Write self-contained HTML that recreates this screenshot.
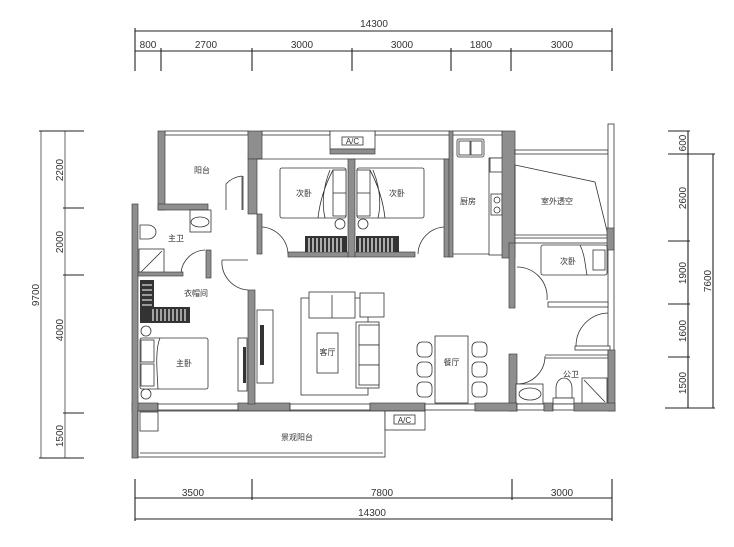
<!DOCTYPE html>
<html><head><meta charset="utf-8"><style>
html,body{margin:0;padding:0;background:#fff;width:734px;height:547px;overflow:hidden}
svg{display:block}
text{font-family:"Liberation Sans","Noto Sans CJK SC",sans-serif;fill:#333}
.d{font-size:10px}
.l{font-size:8px}
.w{fill:#8e8e8e;stroke:#444;stroke-width:.7}
.t{fill:none;stroke:#333;stroke-width:.8}
.f{fill:#fff;stroke:#333;stroke-width:.8}
.k{stroke:#222;stroke-width:1.1}
</style></head><body>
<svg width="734" height="547" viewBox="0 0 734 547">
<!-- top dimensions -->
<g class="k">
<line x1="135" y1="31" x2="612" y2="31"/>
<line x1="135" y1="51" x2="612" y2="51"/>
<line x1="135" y1="28" x2="135" y2="71"/><line x1="612" y1="28" x2="612" y2="71"/>
<line x1="161" y1="48" x2="161" y2="71"/><line x1="252" y1="48" x2="252" y2="71"/>
<line x1="352" y1="48" x2="352" y2="71"/><line x1="451" y1="48" x2="451" y2="71"/>
<line x1="511" y1="48" x2="511" y2="71"/>
</g>
<text class="d" x="374" y="27" text-anchor="middle">14300</text>
<text class="d" x="148" y="48" text-anchor="middle">800</text>
<text class="d" x="206" y="48" text-anchor="middle">2700</text>
<text class="d" x="302" y="48" text-anchor="middle">3000</text>
<text class="d" x="402" y="48" text-anchor="middle">3000</text>
<text class="d" x="481" y="48" text-anchor="middle">1800</text>
<text class="d" x="562" y="48" text-anchor="middle">3000</text>
<!-- bottom dimensions -->
<g class="k">
<line x1="135" y1="498" x2="612" y2="498"/>
<line x1="135" y1="519" x2="612" y2="519"/>
<line x1="135" y1="479" x2="135" y2="521"/><line x1="612" y1="479" x2="612" y2="521"/>
<line x1="252" y1="479" x2="252" y2="500"/><line x1="512" y1="479" x2="512" y2="500"/>
</g>
<text class="d" x="193" y="496" text-anchor="middle">3500</text>
<text class="d" x="382" y="496" text-anchor="middle">7800</text>
<text class="d" x="562" y="496" text-anchor="middle">3000</text>
<text class="d" x="372" y="516" text-anchor="middle">14300</text>
<!-- left dimensions -->
<g stroke="#666" stroke-width="1">
<line x1="41" y1="131" x2="41" y2="458"/>
<line x1="65" y1="131" x2="65" y2="458"/>
</g>
<g class="k">
<line x1="39" y1="131" x2="84" y2="131"/><line x1="39" y1="458" x2="84" y2="458"/>
<line x1="63" y1="208" x2="84" y2="208"/><line x1="63" y1="275" x2="84" y2="275"/>
<line x1="63" y1="413" x2="84" y2="413"/>
</g>
<text class="d" transform="translate(39,295) rotate(-90)" text-anchor="middle">9700</text>
<text class="d" transform="translate(63,170) rotate(-90)" text-anchor="middle">2200</text>
<text class="d" transform="translate(63,242) rotate(-90)" text-anchor="middle">2000</text>
<text class="d" transform="translate(63,330) rotate(-90)" text-anchor="middle">4000</text>
<text class="d" transform="translate(63,436) rotate(-90)" text-anchor="middle">1500</text>
<!-- right dimensions -->
<g class="k">
<line x1="688" y1="131" x2="688" y2="408"/>
<line x1="713" y1="154" x2="713" y2="408"/>
<line x1="668" y1="131" x2="690" y2="131"/><line x1="668" y1="154" x2="715" y2="154"/>
<line x1="668" y1="241" x2="690" y2="241"/><line x1="668" y1="304" x2="690" y2="304"/>
<line x1="668" y1="357" x2="690" y2="357"/><line x1="665" y1="408" x2="715" y2="408"/>
</g>
<text class="d" transform="translate(686,143) rotate(-90)" text-anchor="middle">600</text>
<text class="d" transform="translate(686,198) rotate(-90)" text-anchor="middle">2600</text>
<text class="d" transform="translate(686,273) rotate(-90)" text-anchor="middle">1900</text>
<text class="d" transform="translate(686,331) rotate(-90)" text-anchor="middle">1600</text>
<text class="d" transform="translate(686,383) rotate(-90)" text-anchor="middle">1500</text>
<text class="d" transform="translate(711,281) rotate(-90)" text-anchor="middle">7600</text>

<!-- ===== PLAN ===== -->
<!-- top windows/outer -->
<rect class="f" x="165" y="131" width="83" height="4"/>
<rect class="f" x="262" y="131" width="68" height="4"/>
<rect class="f" x="375" y="131" width="75" height="4"/>
<rect class="f" x="452" y="131" width="50" height="4"/>
<!-- balcony (阳台) -->
<rect class="w" x="158" y="131" width="7" height="79"/>
<rect class="w" x="248" y="131" width="14" height="28"/>
<rect class="w" x="248" y="159" width="9" height="55"/>
<rect class="w" x="158" y="204" width="50" height="6"/>
<path class="t" d="M226,210 V184 A25,25 0 0 1 242,176 M242,176 V210"/>
<line class="t" x1="243" y1="176" x2="243" y2="210"/>
<!-- A/C top -->
<rect class="f" x="330" y="131" width="45" height="18"/>
<rect class="f" x="342" y="137" width="21" height="8"/>
<text class="l" x="352.5" y="144" text-anchor="middle">A/C</text>
<rect class="w" x="330" y="149" width="45" height="5"/>
<!-- bedrooms top -->
<line class="t" x1="257" y1="159" x2="450" y2="159"/>
<rect class="w" x="348" y="159" width="7" height="98"/>
<rect class="w" x="288" y="252" width="60" height="5"/>
<rect class="w" x="355" y="252" width="60" height="5"/>
<rect class="w" x="257" y="214" width="5" height="40"/>
<rect class="w" x="444" y="159" width="5" height="98"/>
<!-- beds upper -->
<rect class="f" x="280" y="168" width="66" height="50" rx="2"/>
<rect class="f" x="333" y="170" width="13" height="46"/>
<line class="t" x1="333" y1="193" x2="346" y2="193"/>
<path class="t" d="M333,170 C325,185 320,200 318,218 M330,170 C322,190 322,205 325,218"/>
<rect class="f" x="357" y="168" width="67" height="50" rx="2"/>
<rect class="f" x="357" y="170" width="13" height="46"/>
<line class="t" x1="357" y1="193" x2="370" y2="193"/>
<path class="t" d="M370,170 C378,185 383,200 385,218 M373,170 C381,190 381,205 378,218"/>
<text class="l" x="304" y="196" text-anchor="middle">次卧</text>
<text class="l" x="397" y="196" text-anchor="middle">次卧</text>
<circle class="f" cx="340" cy="224" r="5"/><circle class="f" cx="363" cy="224" r="5"/>
<g fill="#333"><rect x="305" y="236" width="42" height="16"/><rect x="356" y="236" width="43" height="16"/></g>
<g stroke="#fff" stroke-width="1.2">
<path d="M309,238v14M313,238v14M317,238v14M321,238v14M325,238v14M329,238v14M333,238v14M337,238v14M341,238v14M360,238v14M364,238v14M368,238v14M372,238v14M376,238v14M380,238v14M384,238v14M388,238v14M392,238v14"/>
</g>
<path class="t" d="M262,227 A28,28 0 0 1 288,254"/>
<path class="t" d="M444,227 A28,28 0 0 0 418,254"/>
<!-- kitchen -->
<rect class="w" x="449" y="131" width="4" height="126"/>
<rect class="f" x="457" y="139" width="27" height="18" rx="2"/>
<rect class="f" x="459" y="141" width="11" height="14"/><rect class="f" x="471" y="141" width="11" height="14"/>
<rect class="f" x="489" y="158" width="18" height="97"/>
<rect class="f" x="490" y="158" width="16" height="14"/>
<rect class="f" x="491" y="194" width="11" height="21"/>
<circle class="f" cx="497" cy="200" r="3"/><circle class="f" cx="497" cy="210" r="3"/>
<line class="t" x1="453" y1="254" x2="489" y2="254"/>
<text class="l" x="468" y="204" text-anchor="middle">厨房</text>
<rect class="w" x="502" y="131" width="13" height="127"/>
<!-- outdoor void -->
<rect class="f" x="515" y="150" width="93" height="4"/>
<rect class="f" x="608" y="124" width="6" height="286"/>
<polygon class="t" points="515,165 595,182 608,235 515,235"/>
<text class="l" x="557" y="204" text-anchor="middle">室外透空</text>
<rect class="f" x="515" y="238" width="93" height="5"/>
<rect class="w" x="607" y="228" width="7" height="22"/>
<!-- small 次卧 -->
<rect class="w" x="509" y="243" width="6" height="65"/>
<rect class="f" x="541" y="245" width="66" height="30" rx="2"/>
<rect class="f" x="593" y="250" width="12" height="20"/>
<path class="t" d="M580,245 C585,255 585,265 587,275"/>
<text class="l" x="568" y="264" text-anchor="middle">次卧</text>
<rect class="f" x="548" y="302" width="60" height="5"/>
<path class="t" d="M517,267 A30,30 0 0 1 547,300"/>
<path class="t" d="M608,313 A33,33 0 0 0 576,346"/>
<rect class="f" x="575" y="346" width="35" height="4"/>
<!-- 公卫 -->
<rect class="w" x="509" y="354" width="8" height="57"/>
<rect class="w" x="608" y="350" width="7" height="61"/>
<line class="t" x1="545" y1="355" x2="608" y2="355"/>
<line class="t" x1="545" y1="358" x2="608" y2="358"/>
<path class="t" d="M545,356 A28,28 0 0 1 517,384"/>
<rect class="f" x="516" y="384" width="27" height="20"/>
<ellipse class="f" cx="530" cy="394" rx="11" ry="6"/>
<path class="t" d="M556,388 a8,10 0 0 1 16,0 v10 h-16z"/>
<rect class="f" x="553" y="398" width="21" height="6"/>
<rect class="f" x="582" y="378" width="25" height="26"/>
<line class="t" x1="584" y1="380" x2="605" y2="402"/>
<text class="l" x="571" y="377" text-anchor="middle">公卫</text>
<!-- bottom wall -->
<rect class="w" x="132" y="403" width="26" height="8"/>
<rect class="f" x="158" y="404" width="80" height="6"/>
<rect class="w" x="238" y="403" width="52" height="8"/>
<rect class="f" x="290" y="404" width="80" height="6"/>
<rect class="w" x="370" y="403" width="55" height="8"/>
<rect class="f" x="425" y="404" width="50" height="6"/>
<rect class="w" x="475" y="403" width="42" height="8"/>
<rect class="f" x="517" y="404" width="27" height="6"/>
<rect class="w" x="544" y="403" width="9" height="8"/>
<rect class="f" x="553" y="404" width="21" height="6"/>
<rect class="w" x="574" y="403" width="41" height="8"/>
<!-- landscape balcony -->
<rect class="w" x="132" y="204" width="6" height="254"/>
<rect class="f" x="138" y="411" width="247" height="46"/>
<line class="t" x1="140" y1="453" x2="383" y2="453"/>
<rect class="f" x="140" y="412" width="18" height="19"/>
<text class="l" x="297" y="440" text-anchor="middle">景观阳台</text>
<rect class="f" x="385" y="411" width="40" height="19"/>
<rect class="f" x="394" y="415" width="21" height="9"/>
<text class="l" x="404.5" y="423" text-anchor="middle">A/C</text>
<!-- master bath 主卫 -->
<rect class="f" x="190" y="210" width="21" height="22"/>
<ellipse class="f" cx="200" cy="222" rx="9" ry="5"/>
<path class="t" d="M140,225 h8 a8,7 0 0 1 0,14 h-8z"/>
<rect class="f" x="139" y="249" width="25" height="25"/>
<line class="t" x1="141" y1="272" x2="162" y2="251"/>
<text class="l" x="176" y="241" text-anchor="middle">主卫</text>
<path class="t" d="M181,273 A25,25 0 0 1 205,250"/>
<rect class="w" x="206" y="250" width="5" height="28"/>
<rect class="w" x="138" y="272" width="45" height="4"/>
<!-- closet -->
<g fill="#333"><rect x="140" y="280" width="14" height="43"/><rect x="148" y="307" width="42" height="16"/></g>
<g stroke="#fff" stroke-width="1.1">
<path d="M142,285h10M142,290h10M142,295h10M142,300h10M142,305h10M153,309v12M157,309v12M161,309v12M165,309v12M169,309v12M173,309v12M177,309v12M181,309v12M185,309v12"/>
</g>
<text class="l" x="196" y="296" text-anchor="middle">衣帽间</text>
<path class="t" d="M222,260 A28,28 0 0 0 248,290"/>
<line class="t" x1="222" y1="260" x2="248" y2="260"/>
<!-- master bedroom -->
<circle class="f" cx="146" cy="331" r="5"/><circle class="f" cx="146" cy="394" r="5"/>
<rect class="f" x="140" y="338" width="68" height="51" rx="2"/>
<rect class="f" x="141" y="340" width="13" height="22"/><rect class="f" x="141" y="364" width="13" height="22"/>
<path class="t" d="M160,338 C155,350 157,370 158,389"/>
<text class="l" x="184" y="366" text-anchor="middle">主卧</text>
<rect class="w" x="248" y="290" width="7" height="114"/>
<rect class="f" x="238" y="338" width="9" height="53"/>
<rect x="243" y="347" width="3" height="36" fill="#333"/>
<rect class="f" x="257" y="310" width="16" height="73"/>
<rect x="260" y="325" width="4" height="40" fill="#333"/>
<!-- living room -->
<rect class="f" x="301" y="298" width="67" height="97"/>
<rect class="f" x="309" y="292" width="46" height="26"/>
<line class="t" x1="332" y1="295" x2="332" y2="318"/>
<rect class="f" x="360" y="293" width="24" height="24"/>
<rect class="f" x="356" y="322" width="23" height="66"/>
<rect class="f" x="359" y="325" width="20" height="20"/><rect class="f" x="359" y="345" width="20" height="20"/><rect class="f" x="359" y="365" width="20" height="20"/>
<rect class="f" x="317" y="333" width="21" height="40"/>
<text class="l" x="327.5" y="355" text-anchor="middle">客厅</text>
<!-- dining -->
<rect class="f" x="435" y="336" width="33" height="67"/>
<text class="l" x="451.5" y="365" text-anchor="middle">餐厅</text>
<g class="f">
<rect x="417" y="342" width="15" height="15" rx="5"/><rect x="417" y="362" width="15" height="15" rx="5"/><rect x="417" y="382" width="15" height="15" rx="5"/>
<rect x="472" y="342" width="15" height="15" rx="5"/><rect x="472" y="362" width="15" height="15" rx="5"/><rect x="472" y="382" width="15" height="15" rx="5"/>
</g>
<text class="l" x="202" y="173" text-anchor="middle">阳台</text>
</svg>
</body></html>
